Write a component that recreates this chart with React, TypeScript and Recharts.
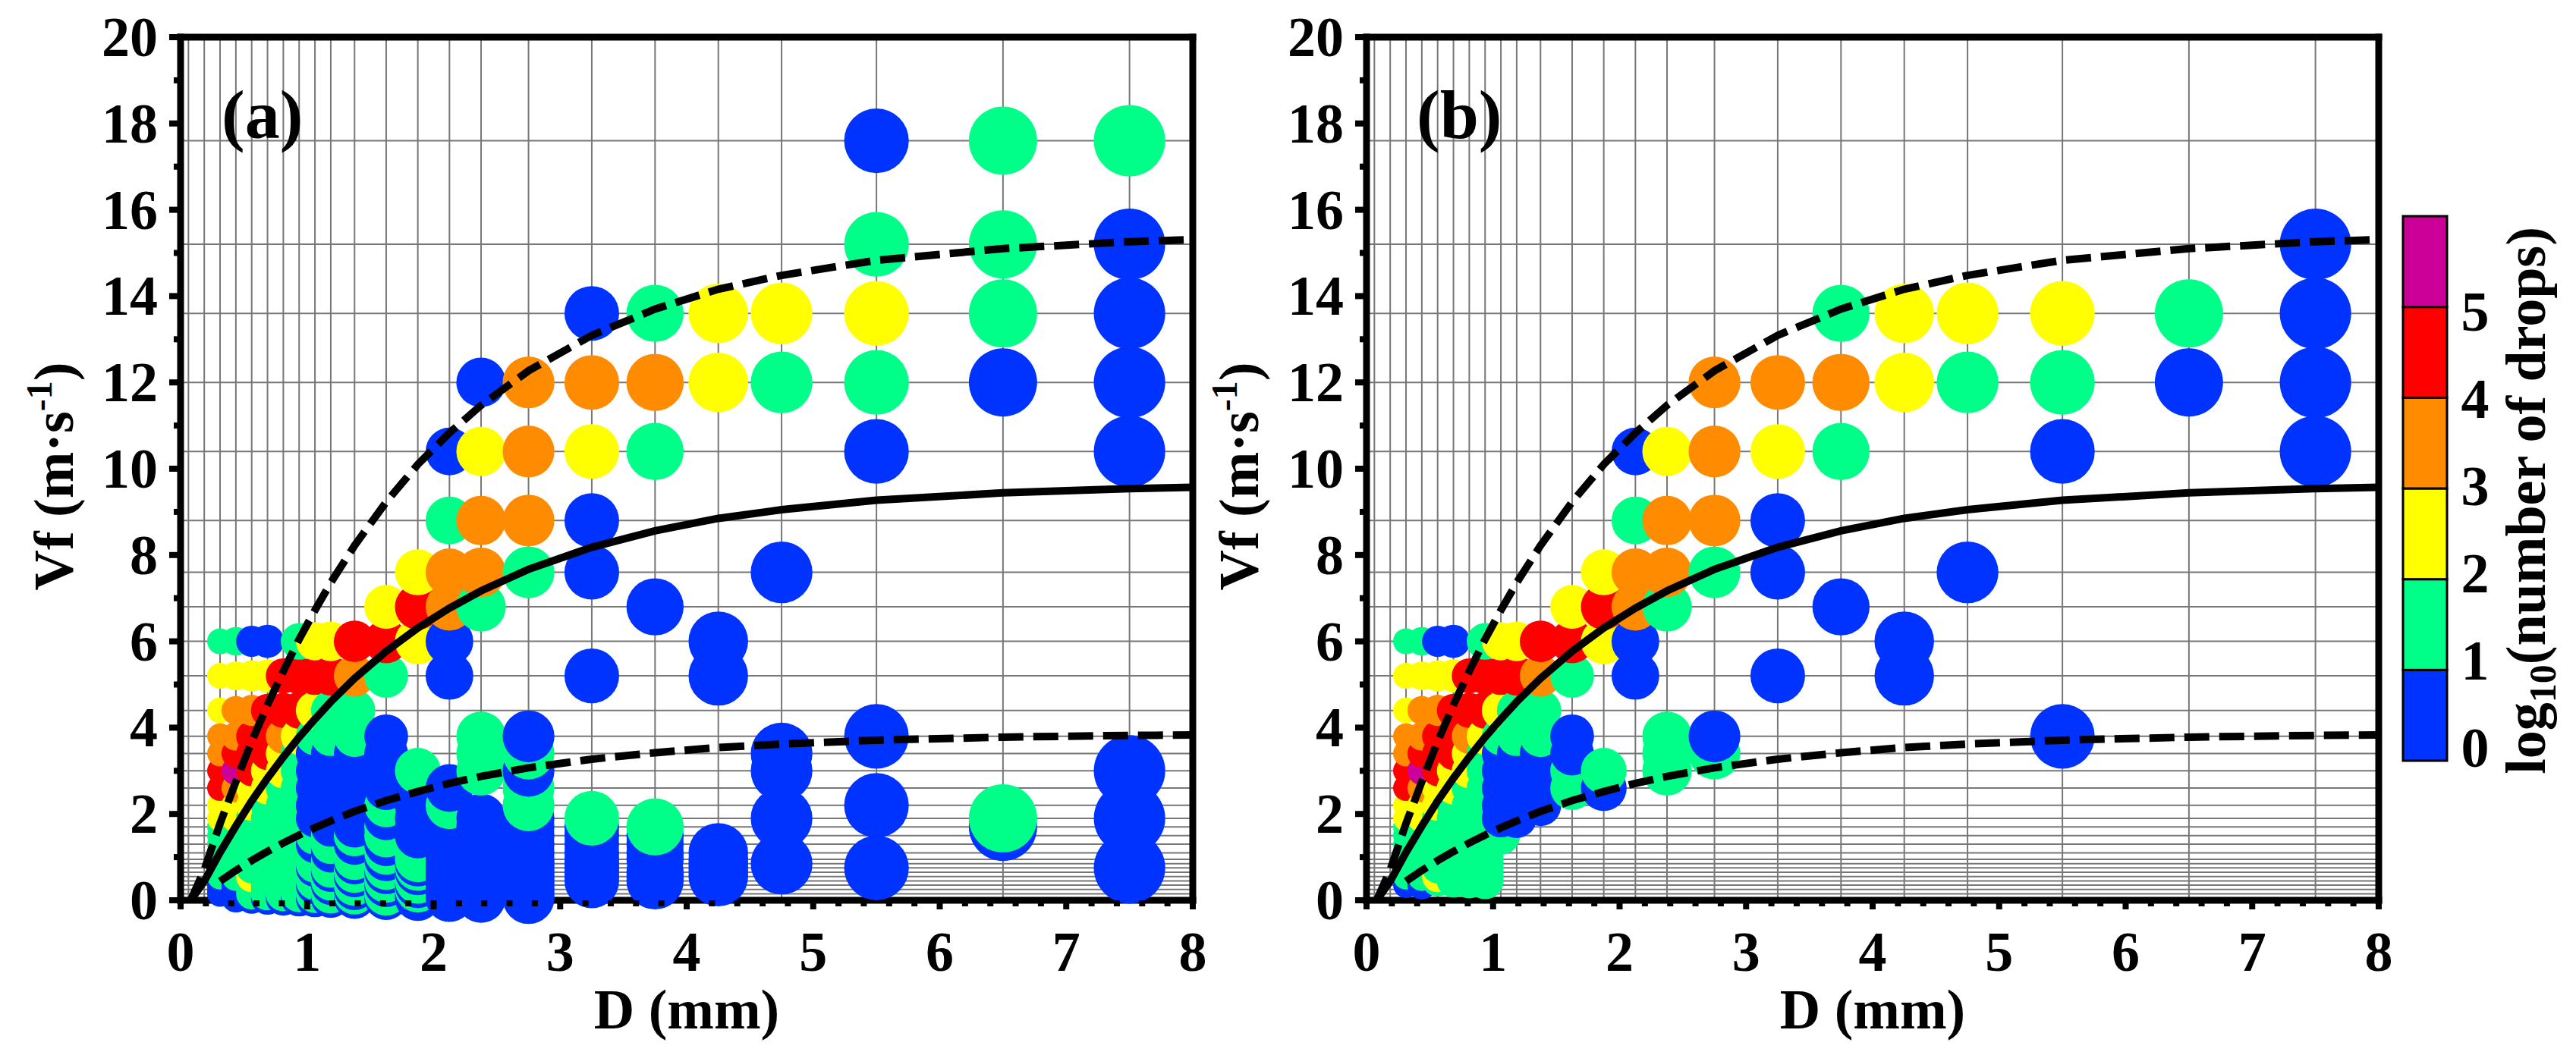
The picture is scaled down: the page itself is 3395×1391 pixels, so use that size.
import React from "react";
import { CartesianGrid, ComposedChart, Line, Scatter, XAxis, YAxis } from "recharts";

// Parsivel class centres used by the figure
const diameterClasses = [
  0.312, 0.437, 0.562, 0.687, 0.812, 0.937, 1.062, 1.187, 1.375, 1.625, 1.875, 2.125, 2.375, 2.75, 3.25, 3.75,
  4.25, 4.75, 5.5, 6.5, 7.5,
];
const velocityClasses = [
  0.05, 0.15, 0.25, 0.35, 0.45, 0.55, 0.65, 0.75, 0.85, 0.95, 1.1, 1.3, 1.5, 1.7, 1.9, 2.2, 2.6, 3.0, 3.4, 3.8, 4.4,
  5.2, 6.0, 6.8, 7.6, 8.8, 10.4, 12.0, 13.6, 15.2, 17.6,
];
const gridD = [
  0.062, 0.187, 0.312, 0.437, 0.562, 0.687, 0.812, 0.937, 1.062, 1.187, 1.375, 1.625, 1.875, 2.125, 2.375, 2.75,
  3.25, 3.75, 4.25, 4.75, 5.5, 6.5, 7.5,
];

// log10(number of drops) class per cell: one string per diameter class,
// char k = velocity class k (groups of 10), "." = no drops
const levelsA = [
  ".000011111 1111224433 221....... .",
  "0000011111 1111223543 321....... .",
  "0111122111 1111122444 320....... .",
  "0111111111 1111112244 420....... .",
  "0111111111 1111111223 44........ .",
  "0111111111 1111111112 441....... .",
  "0110111011 1011000001 242....... .",
  "0110110111 0110000001 142....... .",
  "0101101101 1010000001 134....... .",
  "0110110110 1011010000 .142...... .",
  "0010110101 11000001.. ..242..... .",
  "0000000000 0000010... .003310... .",
  "0000000000 00000..111 ...13320.. .",
  "0000000000 0000011010 ....1333.. .",
  "....000000 00001..... .0..00230. .",
  "....000..0 0001...... ...0..131. .",
  ".....00000 0......... .00....22. .",
  "........0. ....0..00. ....0..12. .",
  ".......0.. .....0...0 ......0121 0",
  ".......... ...01..... .......011 1",
  ".......0.. ....0..0.. ......0000 1",
];
const levelsB = [
  "...0011111 1111224433 221....... .",
  "...0011111 1111223543 321....... .",
  "....122111 1111122444 320....... .",
  "....111111 1111112244 420....... .",
  "....111111 1111111223 44........ .",
  "....111111 1111111112 441....... .",
  ".......... ..11000001 242....... .",
  ".......... ....000001 142....... .",
  ".......... .....00001 134....... .",
  ".......... ......1100 .142...... .",
  ".......... ......01.. ..242..... .",
  ".......... .......... .003310... .",
  ".......... .......111 ...1332... .",
  ".......... ........10 ....1333.. .",
  ".......... .......... .0..0023.. .",
  ".......... .......... ...0..131. .",
  ".......... .......... .00....22. .",
  ".......... .......... ....0..12. .",
  ".......... .........0 ......012. .",
  ".......... .......... .......01. .",
  ".......... .......... ......0000 .",
];

// fall speed curves read along the class centres
const curveD = [
  0.08, 0.187, 0.312, 0.437, 0.562, 0.687, 0.812, 0.937, 1.062, 1.187, 1.375, 1.625, 1.875, 2.125, 2.375, 2.75, 3.25,
  3.75, 4.25, 4.75, 5.5, 6.5, 7.5, 8.0,
];
const meanV = [
  0, 0.44, 1.11, 1.72, 2.3, 2.83, 3.32, 3.78, 4.2, 4.6, 5.14, 5.77, 6.31, 6.77, 7.17, 7.67, 8.18, 8.56, 8.85, 9.05,
  9.27, 9.44, 9.54, 9.57,
];
const upperV = [
  0, 0.7, 1.78, 2.75, 3.68, 4.53, 5.31, 6.05, 6.72, 7.36, 8.22, 9.23, 10.1, 10.83, 11.47, 12.27, 13.09, 13.7, 14.16,
  14.48, 14.83, 15.1, 15.26, 15.31,
];
const lowerV = [
  null, null, 0.44, 0.69, 0.92, 1.13, 1.33, 1.51, 1.68, 1.84, 2.06, 2.31, 2.52, 2.71, 2.87, 3.07, 3.27, 3.42, 3.54,
  3.62, 3.71, 3.78, 3.82, 3.83,
];

const levelColors = ["#0033ff", "#00ff88", "#ffff00", "#ff8c00", "#ff0000", "#cc0099"];
const levelLabels = ["0", "1", "2", "3", "4", "5"];

const xMajorTicks = [0, 1, 2, 3, 4, 5, 6, 7, 8];
const yMajorTicks = [0, 2, 4, 6, 8, 10, 12, 14, 16, 18, 20];
const xTicks = Array.from({ length: 41 }, (_, i) => Math.round(i * 2) / 10);
const yTicks = Array.from({ length: 21 }, (_, i) => i);

const serif = "'Liberation Serif', 'Times New Roman', serif";

type Pt = { d: number; v: number; level: number };

function toPoints(levels: string[]): Pt[] {
  const pts: Pt[] = [];
  levels.forEach((row, i) => {
    const cells = row.replace(/ /g, "");
    velocityClasses.forEach((v, k) => {
      const c = cells[k];
      if (c && c !== ".") pts.push({ d: diameterClasses[i], v, level: Number(c) });
    });
  });
  return pts;
}

function toCurve(vs: (number | null)[]) {
  return curveD.map((d, i) => ({ d, v: vs[i] })).filter((p) => p.v !== null);
}

const pointsA = toPoints(levelsA);
const pointsB = toPoints(levelsB);
const meanCurve = toCurve(meanV);
const upperCurve = toCurve(upperV);
const lowerCurve = toCurve(lowerV);

const axisLine = { stroke: "#000", strokeWidth: 9, strokeLinecap: "square" as const };

const BottomTick = (props: any) => {
  const { x, y, payload } = props;
  const major = xMajorTicks.includes(payload.value);
  return (
    <g>
      <line x1={x} x2={x} y1={y} y2={y + (major ? 12 : 8)} stroke="#000" strokeWidth={8} />
      {major && (
        <text x={x} y={y + 93} textAnchor="middle" fontFamily={serif} fontWeight="bold" fontSize={74} fill="#000">
          {payload.value}
        </text>
      )}
    </g>
  );
};

const TopTick = (props: any) => {
  const { x, y } = props;
  return <line x1={x} x2={x} y1={y} y2={y - 9} stroke="#000" strokeWidth={8} />;
};

const LeftTick = (props: any) => {
  const { x, y, payload } = props;
  const major = yMajorTicks.includes(payload.value);
  return (
    <g>
      <line x1={x - (major ? 15 : 9)} x2={x} y1={y} y2={y} stroke="#000" strokeWidth={8} />
      {major && (
        <text x={x - 30} y={y + 25} textAnchor="end" fontFamily={serif} fontWeight="bold" fontSize={74} fill="#000">
          {payload.value}
        </text>
      )}
    </g>
  );
};

const RightTick = (props: any) => {
  const { x, y, payload } = props;
  const major = yMajorTicks.includes(payload.value);
  return <line x1={x} x2={x + (major ? 13 : 7)} y1={y} y2={y} stroke="#000" strokeWidth={8} />;
};

const renderBubble = (props: any) => {
  const { cx, cy, payload } = props;
  if (cx == null || cy == null) return <g />;
  return <circle cx={cx} cy={cy} r={24.7 * Math.pow(payload.d, 0.32)} fill={levelColors[payload.level]} />;
};

function Panel({ points, left }: { points: Pt[]; left: number }) {
  return (
    <div style={{ position: "absolute", left, top: 0 }}>
      <ComposedChart width={1700} height={1391} margin={{ top: 29, right: 98, bottom: 104, left: 138 }}>
        <CartesianGrid
          horizontalValues={velocityClasses}
          verticalValues={gridD}
          stroke="#777"
          strokeWidth={2}
        />
        <XAxis
          dataKey="d"
          type="number"
          domain={[0, 8]}
          ticks={xTicks}
          interval={0}
          height={100}
          axisLine={axisLine}
          tickLine={false}
          tickSize={0}
          tickMargin={0}
          tick={BottomTick}
        />
        <XAxis
          xAxisId="top"
          orientation="top"
          type="number"
          domain={[0, 8]}
          ticks={xTicks}
          interval={0}
          height={20}
          axisLine={axisLine}
          tickLine={false}
          tickSize={0}
          tickMargin={0}
          tick={TopTick}
        />
        <YAxis
          dataKey="v"
          type="number"
          domain={[0, 20]}
          ticks={yTicks}
          interval={0}
          width={100}
          axisLine={axisLine}
          tickLine={false}
          tickSize={0}
          tickMargin={0}
          tick={LeftTick}
        />
        <YAxis
          yAxisId="right"
          orientation="right"
          type="number"
          domain={[0, 20]}
          ticks={yTicks}
          interval={0}
          width={30}
          axisLine={axisLine}
          tickLine={false}
          tickSize={0}
          tickMargin={0}
          tick={RightTick}
        />
        <Scatter data={points} dataKey="v" shape={renderBubble} isAnimationActive={false} />
        <Line
          data={upperCurve}
          dataKey="v"
          type="linear"
          stroke="#000"
          strokeWidth={10}
          strokeDasharray="33 13"
          dot={false}
          activeDot={false}
          isAnimationActive={false}
          zIndex={700}
        />
        <Line
          data={meanCurve}
          dataKey="v"
          type="linear"
          stroke="#000"
          strokeWidth={10}
          dot={false}
          activeDot={false}
          isAnimationActive={false}
          zIndex={700}
        />
        <Line
          data={lowerCurve}
          dataKey="v"
          type="linear"
          stroke="#000"
          strokeWidth={10}
          strokeDasharray="33 13"
          dot={false}
          activeDot={false}
          isAnimationActive={false}
          zIndex={700}
        />
      </ComposedChart>
    </div>
  );
}

export default function App() {
  const txt = { fontFamily: serif, fontWeight: "bold" as const, fill: "#000" };
  const segH = 718 / levelColors.length;
  return (
    <div style={{ position: "absolute", left: 0, top: 0, width: 3395, height: 1391, background: "#fff" }}>
      <Panel points={pointsA} left={0} />
      <Panel points={pointsB} left={1563} />
      <svg width={3395} height={1391} style={{ position: "absolute", left: 0, top: 0, pointerEvents: "none" }}>
        <text x={292} y={182} fontSize={92} {...txt}>
          (a)
        </text>
        <text x={1867} y={182} fontSize={92} {...txt}>
          (b)
        </text>
        {[96, 1658].map((bx) => (
          <text key={bx} transform={`translate(${bx},628) rotate(-90)`} textAnchor="middle" fontSize={74} {...txt}>
            Vf (m·s
            <tspan dy={-28} fontSize={48}>
              -1
            </tspan>
            <tspan dy={28}>)</tspan>
          </text>
        ))}
        {[905, 2468].map((cx) => (
          <text key={cx} x={cx} y={1356} textAnchor="middle" fontSize={74} {...txt}>
            D (mm)
          </text>
        ))}
        {levelColors.map((c, i) => (
          <rect
            key={c}
            x={3167}
            y={1003 - (i + 1) * segH}
            width={58}
            height={segH}
            fill={c}
            stroke="#000"
            strokeWidth={3}
          />
        ))}
        {levelLabels.map((l, i) => (
          <text key={l} x={3262} y={986 - i * 115 + 25} textAnchor="middle" fontSize={74} {...txt}>
            {l}
          </text>
        ))}
        <text transform="translate(3354,660) rotate(-90)" textAnchor="middle" fontSize={74} {...txt}>
          log
          <tspan dy={14} fontSize={50}>
            10
          </tspan>
          <tspan dy={-14}>(number of drops)</tspan>
        </text>
      </svg>
    </div>
  );
}
